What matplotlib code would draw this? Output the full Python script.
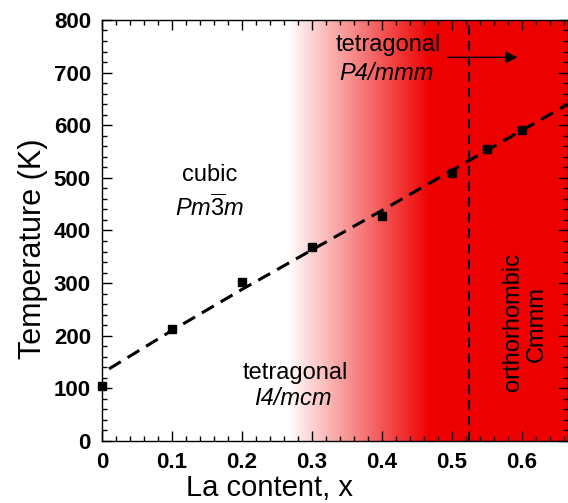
import numpy as np
import matplotlib
matplotlib.use('Agg')
import matplotlib.pyplot as plt
from matplotlib.colors import LinearSegmentedColormap
from matplotlib.ticker import MultipleLocator

plt.rcParams['font.family'] = ['Liberation Sans', 'DejaVu Sans']
plt.rcParams['mathtext.fontset'] = 'custom'
plt.rcParams['mathtext.rm'] = 'Liberation Sans'
plt.rcParams['mathtext.it'] = 'Liberation Sans:italic'

# measured transition temperatures
la_x = [0.0, 0.1, 0.2, 0.3, 0.4, 0.5, 0.55, 0.6]
temp_k = [105, 213, 302, 368, 428, 510, 554, 590]

# dashed guide line
fit_x = [0.01, 0.1, 0.2, 0.3, 0.4, 0.5, 0.6, 0.666]
fit_t = [137, 210, 288, 363, 438, 514, 590, 640]

x_boundary = 0.525
grad_start, grad_end = 0.265, 0.47
x_max = 0.666

fig = plt.figure(figsize=(5.68, 5.03), dpi=100)
ax = fig.add_axes([0.1796, 0.1233, 0.8204, 0.837])

# white -> red background
cmap = LinearSegmentedColormap.from_list('wr', ['white', '#ee0000'])
xs = np.linspace(0, x_max, 600)
frac = np.clip((xs - grad_start) / (grad_end - grad_start), 0, 1)
ax.imshow(frac[np.newaxis, :], cmap=cmap, aspect='auto',
          extent=[0, x_max, 0, 800], origin='lower', zorder=0, vmin=0, vmax=1)

ax.plot(fit_x, fit_t, color='black', lw=2.2, dashes=(4.5, 2.6), zorder=3)
ax.plot(la_x, temp_k, 's', color='black', markersize=6, zorder=4, clip_on=False)
ax.axvline(x_boundary, color='black', lw=1.5, dashes=(4.5, 3), zorder=3)

ax.annotate('', xy=(0.598, 729), xytext=(0.49, 729),
            arrowprops=dict(arrowstyle='-|>', color='black', lw=1,
                            mutation_scale=18), zorder=5)

fs = 17
ax.text(0.154, 505, 'cubic', fontsize=fs, ha='center', va='center')
ax.text(0.154, 443, r'$Pm\overline{3}m$', fontsize=fs, ha='center', va='center')
ax.text(0.276, 130, 'tetragonal', fontsize=fs, ha='center', va='center')
ax.text(0.272, 80, 'I4/mcm', fontsize=fs, style='italic', ha='center', va='center')
ax.text(0.409, 752, 'tetragonal', fontsize=fs, ha='center', va='center')
ax.text(0.407, 698, 'P4/mmm', fontsize=fs, style='italic', ha='center', va='center')
ax.text(0.587, 227, 'orthorhombic', fontsize=fs, rotation=90, ha='center', va='center')
ax.text(0.621, 222, 'Cmmm', fontsize=fs, rotation=90, ha='center', va='center')

ax.set_xlim(0, x_max)
ax.set_ylim(0, 800)
ax.xaxis.set_major_locator(MultipleLocator(0.1))
ax.xaxis.set_minor_locator(MultipleLocator(0.02))
ax.yaxis.set_major_locator(MultipleLocator(100))
ax.yaxis.set_minor_locator(MultipleLocator(20))
ax.tick_params(which='both', direction='in', top=True, right=True, width=1)
ax.tick_params(which='major', length=7, labelsize=16, pad=8)
ax.tick_params(which='minor', length=3.5)
ax.set_xticks([0, 0.1, 0.2, 0.3, 0.4, 0.5, 0.6])
ax.set_xticklabels(['0', '0.1', '0.2', '0.3', '0.4', '0.5', '0.6'], fontweight='bold')
ax.set_yticks(range(0, 801, 100))
ax.set_yticklabels([str(v) for v in range(0, 801, 100)], fontweight='bold')
for s in ax.spines.values():
    s.set_linewidth(1)

ax.set_xlabel('La content, x', fontsize=21)
ax.set_ylabel('Temperature (K)', fontsize=22)
ax.xaxis.set_label_coords(0.36, -0.078)
ax.yaxis.set_label_coords(-0.116, 0.456)

fig.savefig('out.png', dpi=100)
